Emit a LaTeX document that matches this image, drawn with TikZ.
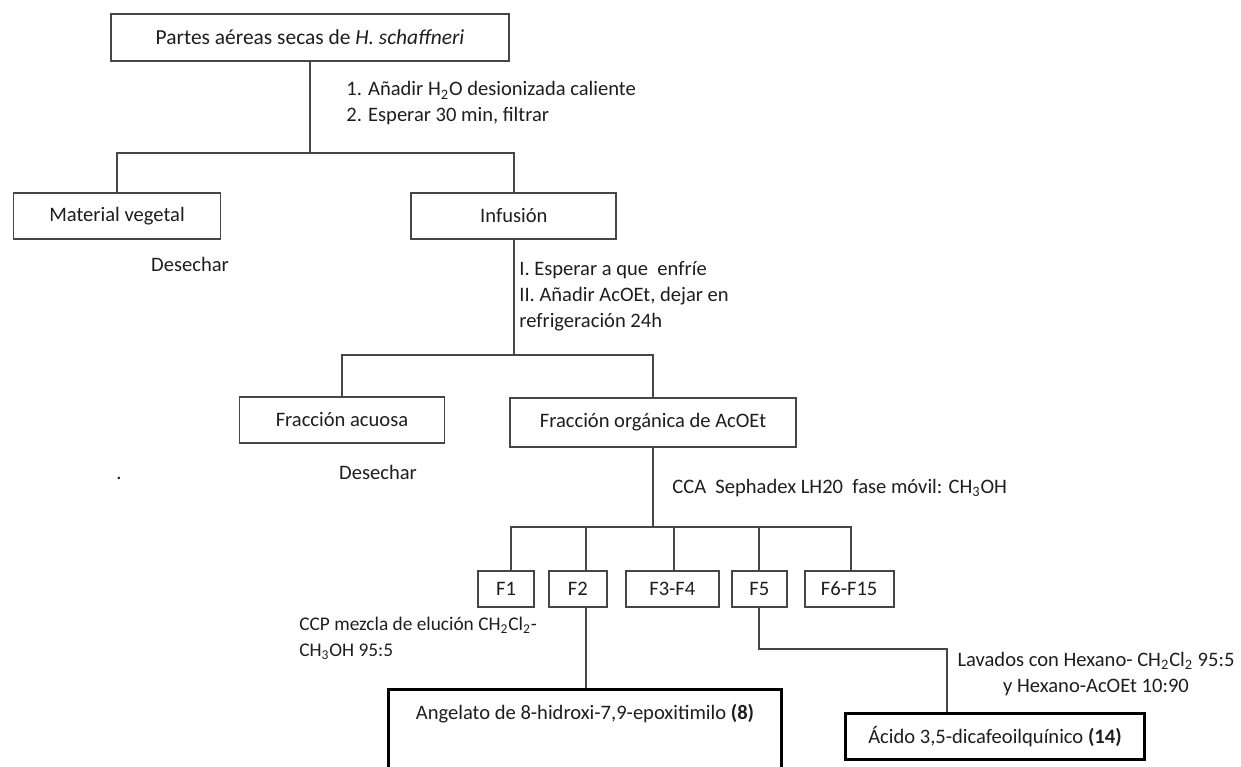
\documentclass[tikz,border=0pt]{standalone}
\usepackage{fontspec}
\setmainfont{Carlito}
\definecolor{linegray}{RGB}{70, 70, 70}
\definecolor{inkgray}{RGB}{30, 30, 30}
\usetikzlibrary{positioning}

\begin{document}
\begin{tikzpicture}[x=0.02cm, y=-0.02cm, every node/.style={font=\fontsize{11.7}{14.8}\selectfont, text=inkgray}]
                \tikzstyle{bx} = [draw=linegray, line width=1.1pt, fill=white, rectangle, inner sep=0pt, minimum height=0.92cm]
                \tikzstyle{fx} = [bx, minimum height=0.72cm]
                \tikzstyle{rx} = [draw=black, line width=1.7pt, fill=white, rectangle, inner sep=0pt]
                \tikzstyle{tx} = [align=left, anchor=west, inner sep=0pt]
                \tikzstyle{l} = [draw=linegray, line width=1.1pt]

                \useasboundingbox (0,0) rectangle (1241,767);

                \node [bx, minimum width=7.96cm, minimum height=0.94cm] (top) at (310,37.5) {\fontsize{12.2}{14.8}\selectfont Partes aéreas secas de \textit{H. schaffneri}};
                \node [bx, minimum width=4.14cm] (veg) at (117,216) {Material vegetal};
                \node [bx, minimum width=4.1cm, right=3.78cm of veg] (inf) {Infusión};
                \node (des1) at (190,264) {Desechar};
                \node [bx, minimum width=4.1cm] (acu) at (342,420) {Fracción acuosa};
                \node [bx, minimum width=5.72cm, minimum height=0.98cm] (org) at (653,422.5) {Fracción orgánica de AcOEt};
                \node (des2) at (378,472) {Desechar};
                \node [inner sep=0pt] (dot) at (119,478) {.};

                % fracciones de la columna
                \node [fx, minimum width=1.12cm] (f1) at (506,589) {F1};
                \node [fx, minimum width=1.16cm, right=0.26cm of f1] (f2) {F2};
                \node [fx, minimum width=1.86cm, right=0.34cm of f2] (f3) {F3-F4};
                \node [fx, minimum width=1.1cm, right=0.22cm of f3] (f5) {F5};
                \node [fx, minimum width=1.78cm, right=0.32cm of f5] (f6) {F6-F15};

                \node [rx, minimum width=7.88cm, text height=0.6cm, text depth=1.45cm, anchor=north] (angel) at (585,688) {Angelato de 8-hidroxi-7,9-epoxitimilo \textbf{(8)}};
                \node [rx, minimum width=6cm, minimum height=0.92cm] (acido) at (995,736.5) {Ácido 3,5-dicafeoilquínico \textbf{(14)}};

                \node [tx] (p1) at (346,103.5) {1. Añadir H\textsubscript{2}O desionizada caliente\\2. Esperar 30 min, filtrar};
                \node [tx] (p2) at (519,296.5) {I. Esperar a que\ \ enfríe\\II. Añadir AcOEt, dejar en\\refrigeración 24h};
                \node [tx] (p3) at (672,488) {CCA\ \ Sephadex LH20\ \ fase móvil: CH\textsubscript{3}OH};
                \node [tx, font=\fontsize{11}{14.8}\selectfont] (p4) at (299,638) {CCP mezcla de elución CH\textsubscript{2}Cl\textsubscript{2}-\\CH\textsubscript{3}OH 95:5};
                \node [align=center, inner sep=0pt] (p5) at (1096,674) {Lavados con Hexano- CH\textsubscript{2}Cl\textsubscript{2} 95:5\\y Hexano-AcOEt 10:90};

                \coordinate (j1) at (310,153);
                \path (inf.south) ++(0,115) coordinate (j2);
                \coordinate (j3) at (653,527);
                \coordinate (k5) at (947,649);

                \draw [l] (top) -- (j1);
                \draw [l] (veg) |- (j1) -| (inf);
                \draw [l] (inf) -- (j2);
                \draw [l] (acu) |- (j2) -| (org);
                \draw [l] (org) -- (j3);
                \foreach \f/\d in {f1/0.1, f2/0.16, f3/0.03, f5/0, f6/0.03}
                    \draw [l] (j3) -| ([xshift=\d cm]\f.north);
                \draw [l] ([xshift=0.16cm]f2.south) -- ([xshift=0.16cm]f2.south |- angel.north);
                \draw [l] (f5) |- (k5) -- (k5 |- acido.north);
            \end{tikzpicture}
\end{document}
